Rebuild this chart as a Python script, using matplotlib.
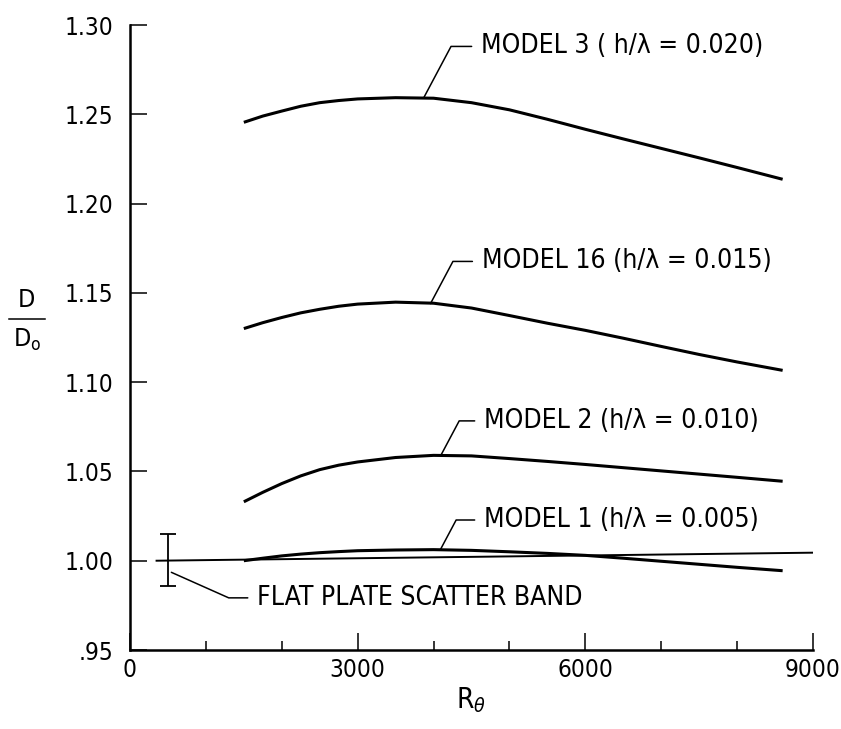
import numpy as np
import matplotlib
matplotlib.use("Agg")
import matplotlib.pyplot as plt
from matplotlib.lines import Line2D

plt.rcParams['font.family'] = ['DejaVu Sans']
plt.rcParams['font.stretch'] = 'condensed'

# ---- data ----
r_theta = [1500, 1750, 2000, 2250, 2500, 2750, 3000, 3500, 4000, 4500,
           5000, 5500, 6000, 6500, 7000, 7500, 8000, 8600]
model3 = [1.2455, 1.249, 1.2518, 1.2545, 1.2565, 1.2577, 1.2586, 1.2593,
          1.2590, 1.2565, 1.2525, 1.2472, 1.2416, 1.2362, 1.2309, 1.2256,
          1.2202, 1.2136]
model16 = [1.130, 1.1333, 1.1362, 1.1388, 1.1408, 1.1425, 1.1437, 1.1448,
           1.1442, 1.1415, 1.1373, 1.1330, 1.1290, 1.1246, 1.1200, 1.1155,
           1.1113, 1.1066]
model2 = [1.033, 1.0383, 1.0432, 1.0475, 1.0510, 1.0535, 1.0553, 1.0578,
          1.0590, 1.0587, 1.0572, 1.0556, 1.0539, 1.0521, 1.0503, 1.0485,
          1.0467, 1.0445]
model1 = [1.000, 1.0014, 1.0027, 1.0037, 1.0045, 1.0051, 1.0056, 1.0060,
          1.0062, 1.0058, 1.0050, 1.0041, 1.0030, 1.0014, 0.9997, 0.9980,
          0.9963, 0.9944]

flat_x = [350, 9000]
flat_y = [1.000, 1.0045]

band_x = 500
band_y = 1.000
band_lo = 0.986
band_hi = 1.015

labels = ["MODEL 3 ( h/\u03bb = 0.020)",
          "MODEL 16 (h/\u03bb = 0.015)",
          "MODEL 2 (h/\u03bb = 0.010)",
          "MODEL 1 (h/\u03bb = 0.005)"]
flat_label = "FLAT PLATE SCATTER BAND"

yticks = [0.95, 1.00, 1.05, 1.10, 1.15, 1.20, 1.25, 1.30]
yticklabels = [".95", "1.00", "1.05", "1.10", "1.15", "1.20", "1.25", "1.30"]
xticks = [0, 3000, 6000, 9000]
xticklabels = ["0", "3000", "6000", "9000"]
xminor = [1000, 2000, 4000, 5000, 7000, 8000]

# ---- figure ----
W, H = 841, 729
fig = plt.figure(figsize=(W / 100, H / 100), dpi=100)
ax = fig.add_axes([130 / W, 1 - 650 / H, 683 / W, 625 / H])

for ys in [model3, model16, model2, model1]:
    ax.plot(r_theta, ys, color="black", lw=2.2, solid_capstyle="butt")

ax.plot(flat_x, flat_y, color="black", lw=1.4)
ax.errorbar([band_x], [band_y],
            yerr=[[band_y - band_lo], [band_hi - band_y]],
            fmt="none", ecolor="black", elinewidth=1.3, capsize=5.5,
            capthick=1.3)

# leader labels: (point on curve, text position)
anchors = [(3870, 1.2592), (3960, 1.1440), (4100, 1.0593), (4090, 1.0062)]
text_pos = [(4630, 1.288), (4640, 1.1676), (4670, 1.0783), (4670, 1.0228)]
lab_size = 19
for lab, (px, py), (tx, ty) in zip(labels, anchors, text_pos):
    ax.annotate(lab, xy=(px, py), xytext=(tx, ty),
                ha="left", va="center", fontsize=lab_size,
                arrowprops=dict(arrowstyle="-", lw=1.1, color="black",
                                shrinkA=5, shrinkB=0,
                                connectionstyle="angle,angleA=0,angleB=62,rad=0"))

ax.annotate(flat_label, xy=(545, 0.9935), xytext=(1680, 0.9792),
            ha="left", va="center", fontsize=lab_size,
            arrowprops=dict(arrowstyle="-", lw=1.1, color="black",
                            shrinkA=5, shrinkB=0,
                            connectionstyle="angle,angleA=0,angleB=-24,rad=0"))

ax.set_xlim(0, 9000)
ax.set_ylim(0.95, 1.30)
ax.set_yticks(yticks, labels=yticklabels)
ax.set_xticks(xticks, labels=xticklabels)
ax.set_xticks(xminor, minor=True)
ax.tick_params(which="major", direction="in", length=12, width=1.1,
               labelsize=17.5, pad=6)
ax.tick_params(which="minor", direction="in", length=6.5, width=1.1)
ax.tick_params(axis="y", pad=12)

for s in ["top", "right"]:
    ax.spines[s].set_visible(False)
for s in ["left", "bottom"]:
    ax.spines[s].set_linewidth(1.8)

ax.set_xlabel(r"R$_\theta$", fontsize=20, labelpad=2)

# D / D_o label
fig.text(26 / W, 1 - 300 / H, "D", fontsize=18, ha="center", va="center")
fig.add_artist(Line2D([9 / W, 45 / W], [1 - 319 / H, 1 - 319 / H],
                      color="black", lw=1.1))
fig.text(27 / W, 1 - 340 / H, r"D$_{\mathrm{o}}$", fontsize=18,
         ha="center", va="center")

fig.savefig("out.png", dpi=100)
